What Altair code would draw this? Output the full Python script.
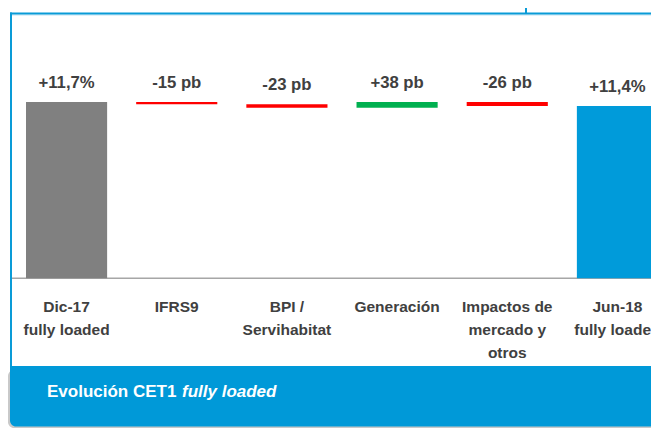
import altair as alt
import pandas as pd

# ---- data ----
categories = ["Dic-17", "IFRS9", "BPI / Servihabitat", "Generación", "Impactos de mercado y otros", "Jun-18"]
axis_labels = ["Dic-17\nfully loaded", "IFRS9", "BPI /\nServihabitat", "Generación",
               "Impactos de\nmercado y\notros", "Jun-18\nfully loaded"]
start_ratio = 11.7            # CET1 fully loaded Dic-17 (%)
changes_pb = [-15, -23, 38, -26]   # basis points
end_ratio_label = 11.4        # CET1 fully loaded Jun-18 (%)
kinds = ["Inicio", "Bajada", "Bajada", "Subida", "Bajada", "Final"]

# ---- build waterfall table ----
rows = []
level = start_ratio
rows.append(dict(cat=categories[0], lab=axis_labels[0], kind=kinds[0], y0=0.0, y1=start_ratio,
                 txt="+" + f"{start_ratio:.1f}".replace(".", ",") + "%"))
for i, d in enumerate(changes_pb):
    new = level + d / 100.0
    rows.append(dict(cat=categories[i + 1], lab=axis_labels[i + 1], kind=kinds[i + 1],
                     y0=level, y1=new, txt=f"{d:+d} pb"))
    level = new
rows.append(dict(cat=categories[-1], lab=axis_labels[-1], kind=kinds[-1], y0=0.0, y1=level,
                 txt="+" + f"{end_ratio_label:.1f}".replace(".", ",") + "%"))
df = pd.DataFrame(rows)
df["top"] = df[["y0", "y1"]].max(axis=1)

FONT = "Liberation Sans"
TXT = "#404040"
BLUE = "#0099D8"
W, H = 643, 420

xscale = alt.Scale(domain=categories, range=[18, 650], paddingInner=0.2636, paddingOuter=0)
yscale = alt.Scale(domain=[0, 11.7], range=[270.3, 94])
X = alt.X("cat:N", sort=categories, scale=xscale, axis=None)

color = alt.Color("kind:N", scale=alt.Scale(domain=["Inicio", "Bajada", "Subida", "Final"],
                                            range=["#808080", "#FF0000", "#00B050", "#009BDA"]),
                  legend=None)

one = pd.DataFrame({"a": [0]})
deco = alt.Chart(one)

shadow = deco.mark_rect(color="#C9C9C9", cornerRadius=6).encode(
    x=alt.value(0), x2=alt.value(660), y=alt.value(362), y2=alt.value(420))
band = deco.mark_rect(color=BLUE, cornerRadiusBottomLeft=6).encode(
    x=alt.value(2), x2=alt.value(660), y=alt.value(358), y2=alt.value(418.5))
top_light = deco.mark_rule(color="#BFE2F3", strokeWidth=1).encode(
    x=alt.value(3), x2=alt.value(W), y=alt.value(7))
top_line = deco.mark_rule(color="#0A9BD7", strokeWidth=2).encode(
    x=alt.value(2), x2=alt.value(W), y=alt.value(5.5))
connector = deco.mark_rule(color="#0A9BD7", strokeWidth=2).encode(
    x=alt.value(518), y=alt.value(0), y2=alt.value(5.5))
left_line = deco.mark_rule(color="#0A9BD7", strokeWidth=2).encode(
    x=alt.value(3), y=alt.value(4.5), y2=alt.value(358))
baseline = deco.mark_rule(color="#A6A6A6", strokeWidth=1.5).encode(
    x=alt.value(4), x2=alt.value(W), y=alt.value(270.3))

title1 = deco.mark_text(text="Evolución CET1", font=FONT, fontSize=17, fontWeight="bold",
                        color="white", align="left", baseline="alphabetic").encode(
    x=alt.value(39), y=alt.value(388.5))
title2 = deco.mark_text(text="fully loaded", font=FONT, fontSize=17, fontWeight="bold",
                        fontStyle="italic", color="white", align="left",
                        baseline="alphabetic").encode(
    x=alt.value(174), y=alt.value(388.5))

base = alt.Chart(df)
bars = base.mark_bar(clip=True).encode(
    x=X,
    y=alt.Y("y0:Q", scale=yscale, axis=None),
    y2="y1:Q",
    color=color,
)
values = base.mark_text(font=FONT, fontSize=16.7, fontWeight="bold", color=TXT,
                        baseline="alphabetic", dy=-14).encode(
    x=X, y=alt.Y("top:Q", scale=yscale, axis=None), text="txt:N")
cat_labels = base.mark_text(font=FONT, fontSize=15.5, fontWeight="bold", color=TXT,
                            baseline="alphabetic", lineBreak="\n", lineHeight=23,
                            clip=True).encode(
    x=X, y=alt.value(303.5), text="lab:N")

chart = alt.layer(
    shadow, band, top_light, top_line, connector, left_line, baseline,
    bars, values, cat_labels, title1, title2
).properties(
    width=W, height=H, padding=0,
    autosize=alt.AutoSizeParams(type="none"),
).configure_view(stroke=None)

chart.save("out.html", embed_options={"renderer": "svg", "actions": False})
